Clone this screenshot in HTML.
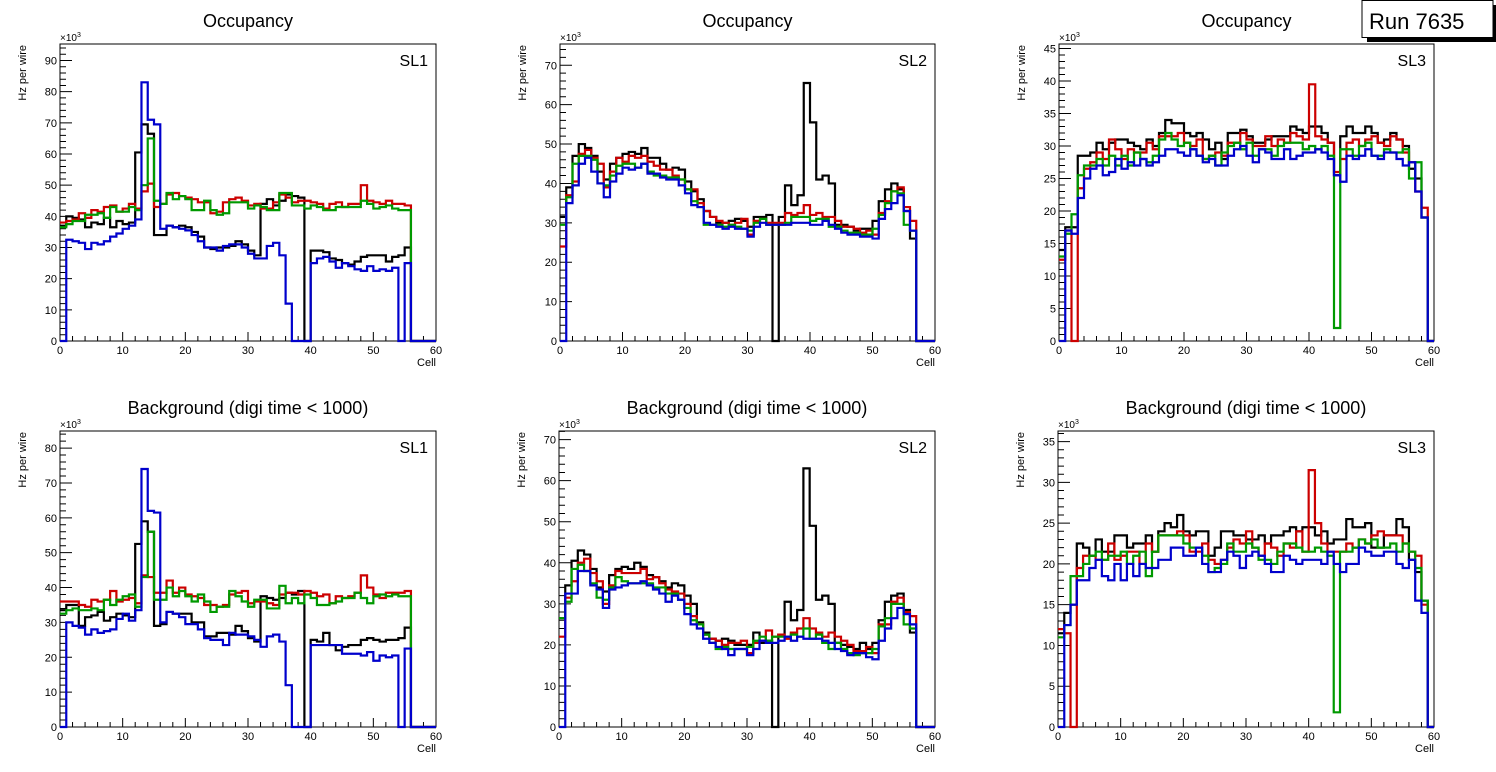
<!DOCTYPE html>
<html><head><meta charset="utf-8"><style>
body{margin:0;background:#fff}
svg{display:block;font-family:"Liberation Sans",sans-serif}
</style></head><body>
<svg id="c" width="1496" height="772" viewBox="0 0 1496 772" xmlns="http://www.w3.org/2000/svg">
<g>
<rect x="1367" y="5" width="129" height="37" fill="#000"/>
<rect x="1362" y="0.5" width="131" height="37" fill="#fff" stroke="#000" stroke-width="1"/>
<text x="1369" y="29" font-size="22" fill="#000">Run 7635</text>
</g>
</svg>
<script>
// ---- data (×10^3 Hz per wire), 60 cells each ----
const cells = Array.from({length:60},(_, i)=>i);
const titles = ["Occupancy","Occupancy","Occupancy","Background (digi time < 1000)","Background (digi time < 1000)","Background (digi time < 1000)"];
const slLabels = ["SL1","SL2","SL3","SL1","SL2","SL3"];
const yMaxes = [95.3,75.4,45.7,84.9,72.1,36.3];
const yMajorSteps = [10,10,5,10,10,5];
const xTicks = [0,10,20,30,40,50,60];
const seriesColors = ["#000000","#cc0000","#009900","#0000cc"];

const occSL1Black=[37,40,39.5,39,36.5,38,37.5,39.5,36.5,38.5,37.5,38,60.5,69.5,66.5,34,34,37,36.5,37,36.5,35,33.5,30,29.5,30,30,30.5,32,31,29,27.5,44,45.5,43.5,45,47,46.5,46,0,29,29,28.5,26.5,26,25,24.5,25.5,27,27.5,27.5,27.5,25.5,27,27.5,30,0,0,0,0];
const occSL1Red=[38,38.5,39,41,39.5,42,41.5,43,43.5,41.5,42.5,44,42.5,48,50.5,43,44,47,47.5,46.5,46,45.5,44.5,44.5,41,41.5,44.5,45.5,46,45,43.5,44,42.5,42.5,44.5,47,46,44.5,45,45,44.5,44,42.5,44,44.5,43,44,44,50,45,44.5,44,45,44,44,43.5,0,0,0,0];
const occSL1Green=[36.5,37.5,38.5,38.5,40.5,40.5,41,39.5,43,41.5,41.5,43,42,50,65,45,44,47.5,45.5,46.5,45.5,42,42,45,42,40.5,41,44.5,44.5,44.5,42.5,43.5,43,42,42,47.5,47.5,43.5,43.5,42.5,43.5,43,42,42,43,43,43,43,45,44,42.5,43,43.5,42.5,42,42,0,0,0,0];
const occSL1Blue=[0,32.5,32,31.5,29.5,31.5,31,32,33.5,34.5,36,37,39,83,71,69.5,36,37,36.5,36,35.5,34,32,30,30,29,30.5,31,31,30,28,26.5,26.5,30.5,31.5,27.5,12,0,0,0,25,26.5,27,25.5,23.5,25,24,23,22.5,24,22.5,23,22.5,23.5,0,25,0,0,0,0];

const occSL2Black=[31.5,39,47,50,49,47,43,41,45,46.5,47.5,48,47.5,49,46.5,46.5,45,43.5,44,43.5,40.5,38,36,33,31.5,30,30,30.5,31,30.5,29,31.5,31.5,32,0,31.5,39.5,34.5,37,65.5,55.5,41,42,40,29.5,29.5,29,28,28.5,28.5,30.5,35.5,38.5,40,38.5,33,26,0,0,0];
const occSL2Red=[24,37,40.5,47.5,48.5,46.5,45,39,43,46.5,45.5,47,46.5,47,45.5,44.5,43.5,43.5,42,41,38.5,38.5,35,33,31.5,30.5,30,29.5,30,31,27,30.5,31,30,30,30,32.5,32,32.5,34.5,32,32.5,31.5,31.5,30.5,29,29,28.5,27.5,28,27,32.5,35.5,38,39,34,30.5,0,0,0];
const occSL2Green=[29.5,36.5,45,47,47,46,40,39.5,42,44.5,45,45,44,45,43,42,42,41.5,41.5,41,38.5,35.5,34,29.5,29.5,29.5,29,29.5,29,28.5,28,30,31,29.5,29.5,29.5,30,31.5,31.5,31.5,30.5,31,31,29,29,28,27.5,27.5,27,27,28.5,32,35,38,37.5,29.5,28,0,0,0];
const occSL2Blue=[0,35,39.5,45,46.5,43,40,36.5,40.5,42.5,44,43.5,44,45,42.5,42.5,41.5,41,41,39.5,37.5,34.5,34,30,29.5,29,28.5,29,28.5,28.5,26.5,29,30,29.5,29.5,29.5,29.5,30,30,30,29.5,29.5,30.5,29.5,28.5,27.5,27,27,26.5,26.5,26,31,33.5,35,37,33,28,0,0,0];

const occSL3Black=[14,17.5,17.5,28.5,28.5,29,30.5,29.5,30.5,31,31,30.5,30,29.5,31,30,32,34,33.5,33.5,32,31.5,32,31,29.5,30.5,28,32,32,32.5,31.5,30.5,30.5,31,31.5,31.5,31.5,33,32.5,32,33,33,32,30.5,25.5,31.5,33,32,32,33,32,30.5,31,32,31,30,26.5,25,19,0];
const occSL3Red=[12.5,17,0,23.5,26.5,27.5,29,28,31,29.5,28,29.5,29,29,30.5,29.5,31.5,31.5,31.5,32,30.5,30,31,28,28.5,29,28.5,30.5,30.5,32,31,30,30,31.5,30,31,30.5,32,31.5,31,39.5,31.5,31,30.5,26,28,30.5,31,30,31,31.5,30.5,30,31.5,31,29,27.5,23,20.5,0];
const occSL3Green=[13,16.5,19.5,25.5,27,27,28,27,28.5,27,28.5,27,29,28,27.5,28.5,31,32,31,30,30.5,29.5,28.5,28,28.5,27,29,30,30.5,29.5,30.5,28.5,29.5,29.5,28.5,30,30.5,30.5,30.5,29.5,30,29.5,30,28.5,2,29.5,29.5,28.5,30,30.5,28.5,28.5,29.5,29,29,29.5,25,27.5,19,0];
const occSL3Blue=[0,17,16.5,22,25,26.5,27,25.5,26,28,26.5,27.5,27,28,27,27.5,28.5,29.5,29.5,29,28.5,29.5,28.5,27.5,28,27,27,28.5,29.5,30,28.5,27.5,29.5,29,28,28,29.5,28,28.5,29,29,29.5,29,28,25.5,24.5,28.5,28,28.5,29.5,28.5,28,29,29,28,27,27.5,23,19,0];

const bkgSL1Black=[33.5,35,35,29,31.5,32,33,30.5,31.5,32.5,32,31.5,52.5,59,56,29,29.5,33,32.5,32.5,32.5,30,30,26,26,27,27,26.5,29,27.5,25.5,24.5,37.5,37,36.5,37,38.5,38,39,0,25,24.5,27,23.5,22,23,23.5,23.5,25,25.5,25,24.5,25,25,25.5,28.5,0,0,0,0];
const bkgSL1Red=[36,36,36,35,34.5,36.5,36,36.5,39,36,36.5,37,35.5,43.5,43,38.5,38.5,42,38.5,40,38,37.5,37,35,35,34.5,35,38,38.5,39,35.5,36,36,35.5,35,38,38.5,38.5,38,39,38.5,37.5,38,35.5,37.5,37,37.5,38.5,43.5,40,38,37,38.5,38.5,38.5,39,0,0,0,0];
const bkgSL1Green=[32.5,33.5,34,33.5,33.5,34,33.5,36.5,35,36.5,37.5,38,34.5,43,56,36.5,36.5,40,37.5,39,37.5,36,38,36,33,34.5,34.5,39,37.5,36,34.5,36.5,36.5,34,34,40.5,35.5,37,35.5,38,37,35,35,35.5,36,37,37,38.5,37,35.5,37.5,38,37.5,38,37.5,37.5,0,0,0,0];
const bkgSL1Blue=[0,30,29,28.5,26.5,28,27,27.5,28,31,32.5,30.5,33.5,74,62,61.5,30,33,32.5,31.5,29.5,29.5,28,25.5,25,25,23.5,27,26.5,26.5,26,25,23,26,26.5,24.5,12,0,0,0,23.5,23.5,23.5,23.5,23.5,21,21,21,20.5,21.5,19,20.5,20,20.5,0,22.5,0,0,0,0];

const bkgSL2Black=[26.5,34.5,40.5,43,42,38.5,34,33,37,38.5,39,38.5,40,39,37,36.5,35.5,34,35,34.5,32,30,25.5,23,21.5,21,21.5,21,20,20,20,23,20.5,21,0,22.5,30.5,26,28.5,63,49,31,32,30,20.5,20,19.5,19,20.5,19,20.5,26,30.5,32,32.5,28.5,23,0,0,0];
const bkgSL2Red=[22,31.5,35.5,40,41,37.5,35.5,30,34.5,38,37.5,37.5,37.5,38.5,36,36.5,35,33.5,33,32.5,30,27,25,22.5,21.5,21,20,20.5,20.5,21,18,20.5,21,23.5,22,22.5,21.5,23,24,26.5,24,23,22,23,22,21,20,18.5,18.5,19.5,18,25,25,30.5,31.5,28,27,0,0,0];
const bkgSL2Green=[26.5,30.5,38.5,39.5,38,35,31.5,31,34,36.5,35.5,35,35,35,35,34,34,32.5,32.5,31,29,26,25,22.5,20.5,19,19.5,19,19,19,19.5,21,22,21,22,22,22,22.5,22,24,21.5,22.5,20.5,19,20.5,19,18,17.5,18,18,19,24.5,26.5,30,30,25,24,0,0,0];
const bkgSL2Blue=[0,32.5,32.5,38,38,34.5,33.5,29,33.5,34,34.5,35,35,35.5,34.5,33.5,32.5,30.5,32,31,27.5,25,24,21.5,20.5,19.5,19,17.5,19,19,17.5,19,21,20.5,20.5,21,22,21,22,21.5,21.5,21.5,21,20.5,19,18.5,17.5,18,18,17,16.5,21,24,26.5,29,27.5,25,0,0,0];

const bkgSL3Black=[11.5,14,15,22.5,22,21,23,21.5,21.5,23.5,23.5,22,22.5,22.5,23.5,21.5,24,25,24.5,26,24,23.5,24,24,21,22,24,24,23.5,23.5,23,23,23.5,22.5,23.5,23.5,24,24.5,24,24.5,24.5,23.5,24,22.5,23,23,25.5,24.5,24.5,25,22,22,23.5,23.5,25.5,24.5,20.5,19,15.5,0];
const bkgSL3Red=[12,11.5,0,19.5,21,21,20.5,20.5,22.5,20.5,21,21.5,21.5,20,22.5,21.5,23.5,23.5,23.5,24,23.5,21.5,21.5,22.5,20.5,20,20.5,22,23,22.5,24,22,21,22.5,22,21,22.5,22,24,21.5,31.5,25,22.5,21.5,21.5,21.5,22.5,22,23,22.5,23.5,24,23.5,23.5,23.5,22.5,21.5,21,15,0];
const bkgSL3Green=[11,12.5,18.5,18.5,20,21,21.5,20.5,21,21,21.5,20,21,21.5,18.5,21.5,23.5,23.5,23.5,23.5,22.5,22,22,21,19,19.5,20,22.5,21.5,21.5,22.5,22,20.5,20.5,20,21.5,22.5,22.5,22,21.5,21.5,22,21.5,21,1.8,21.5,21.5,22,23,22.5,23,22,22,22.5,21.5,22.5,21.5,19.5,15.5,0];
const bkgSL3Blue=[0,12.5,15,18,18,19.5,20.5,18.5,18,20,18,20,18.5,20,19.5,19.5,20.5,20.5,22,22,21,21,22,20,19,19,20.5,21.5,21,19.5,21,21.5,21,20,19,19,21,20.5,20,20.5,20.5,20.5,20,21.5,20,19,20,20,22,21.5,21,21,21.5,21.5,20,19.5,20.5,15.5,14,0];

const panelSeries = [
 [occSL1Black,occSL1Red,occSL1Green,occSL1Blue],
 [occSL2Black,occSL2Red,occSL2Green,occSL2Blue],
 [occSL3Black,occSL3Red,occSL3Green,occSL3Blue],
 [bkgSL1Black,bkgSL1Red,bkgSL1Green,bkgSL1Blue],
 [bkgSL2Black,bkgSL2Red,bkgSL2Green,bkgSL2Blue],
 [bkgSL3Black,bkgSL3Red,bkgSL3Green,bkgSL3Blue]
];
const seriesNames=["black","red","green","blue"];

// ---- layout ----
const frames=[
 {x0:60,x1:436,y0:44,y1:341},{x0:560,x1:935,y0:44,y1:341},{x0:1059,x1:1434,y0:44,y1:341},
 {x0:60,x1:436,y0:431,y1:727},{x0:559,x1:935,y0:431,y1:727},{x0:1058,x1:1434,y0:431,y1:727}
];
const NS="http://www.w3.org/2000/svg";
const svg=document.getElementById('c');
function mk(tag,attrs,parent){const e=document.createElementNS(NS,tag);for(const k in attrs)e.setAttribute(k,attrs[k]);parent.appendChild(e);return e;}

frames.forEach((f,p)=>{
  const g=mk('g',{},svg);
  
  
  const xs=v=>f.x0+(v/60)*(f.x1-f.x0);
  const ys=v=>f.y1-(v/yMaxes[p])*(f.y1-f.y0);
  const cx=(f.x0+f.x1)/2;
  const t=mk('text',{x:cx,y:f.y0-17,'font-size':18,'text-anchor':'middle'},g);
  t.textContent=titles[p];
  
  
  const fr=mk('rect',{x:f.x0,y:f.y0,width:f.x1-f.x0,height:f.y1-f.y0,fill:'none',stroke:'#000','stroke-width':1},g);
  
  
  // y ticks
  const step=yMajorSteps[p], minor=step/5;
  let d='';
  for(let v=0;v<=yMaxes[p]+1e-6;v+=minor){
    const y=ys(v); const major=Math.abs(v/step-Math.round(v/step))<1e-6;
    d+=`M${f.x0},${y}h${major?12:6}`;
    if(major){const l=mk('text',{x:f.x0-3,y:y+4,'font-size':11,'text-anchor':'end'},g);l.textContent=Math.round(v);
      
      }
  }
  for(let v=0;v<=60;v+=2){const x=xs(v);d+=`M${x},${f.y1}v${v%10===0?-9:-5}`;}
  const tk=mk('path',{d:d,stroke:'#000','stroke-width':1,fill:'none'},g);
  
  
  xTicks.forEach(v=>{const l=mk('text',{x:xs(v),y:f.y1+13,'font-size':11,'text-anchor':'middle'},g);l.textContent=v;
    
    });
  const xl=mk('text',{x:f.x1,y:f.y1+25,'font-size':11,'text-anchor':'end'},g);xl.textContent='Cell';
  
  
  const yl=mk('text',{x:0,y:0,'font-size':11,'text-anchor':'end',transform:`translate(${f.x0-34},${f.y0+1}) rotate(-90)`},g);yl.textContent='Hz per wire';
  
  
  const ex=mk('text',{x:f.x0,y:f.y0-3,'font-size':10},g);ex.innerHTML='×10<tspan dy="-4" font-size="7">3</tspan>';
  
  
  const sl=mk('text',{x:f.x1-8,y:f.y0+22,'font-size':16,'text-anchor':'end'},g);sl.textContent=slLabels[p];
  
  
  // histograms
  panelSeries[p].forEach((vals,s)=>{
    let pd=`M${xs(cells[0])},${ys(vals[0])}`;
    cells.forEach((c,i)=>{pd+=`L${xs(c)},${ys(vals[i])}L${xs(c+1)},${ys(vals[i])}`;});
    const h=mk('path',{d:pd,fill:'none',stroke:seriesColors[s],'stroke-width':2.2,'stroke-linejoin':'miter'},g);
    
    
  });
});
</script>
</body></html>
